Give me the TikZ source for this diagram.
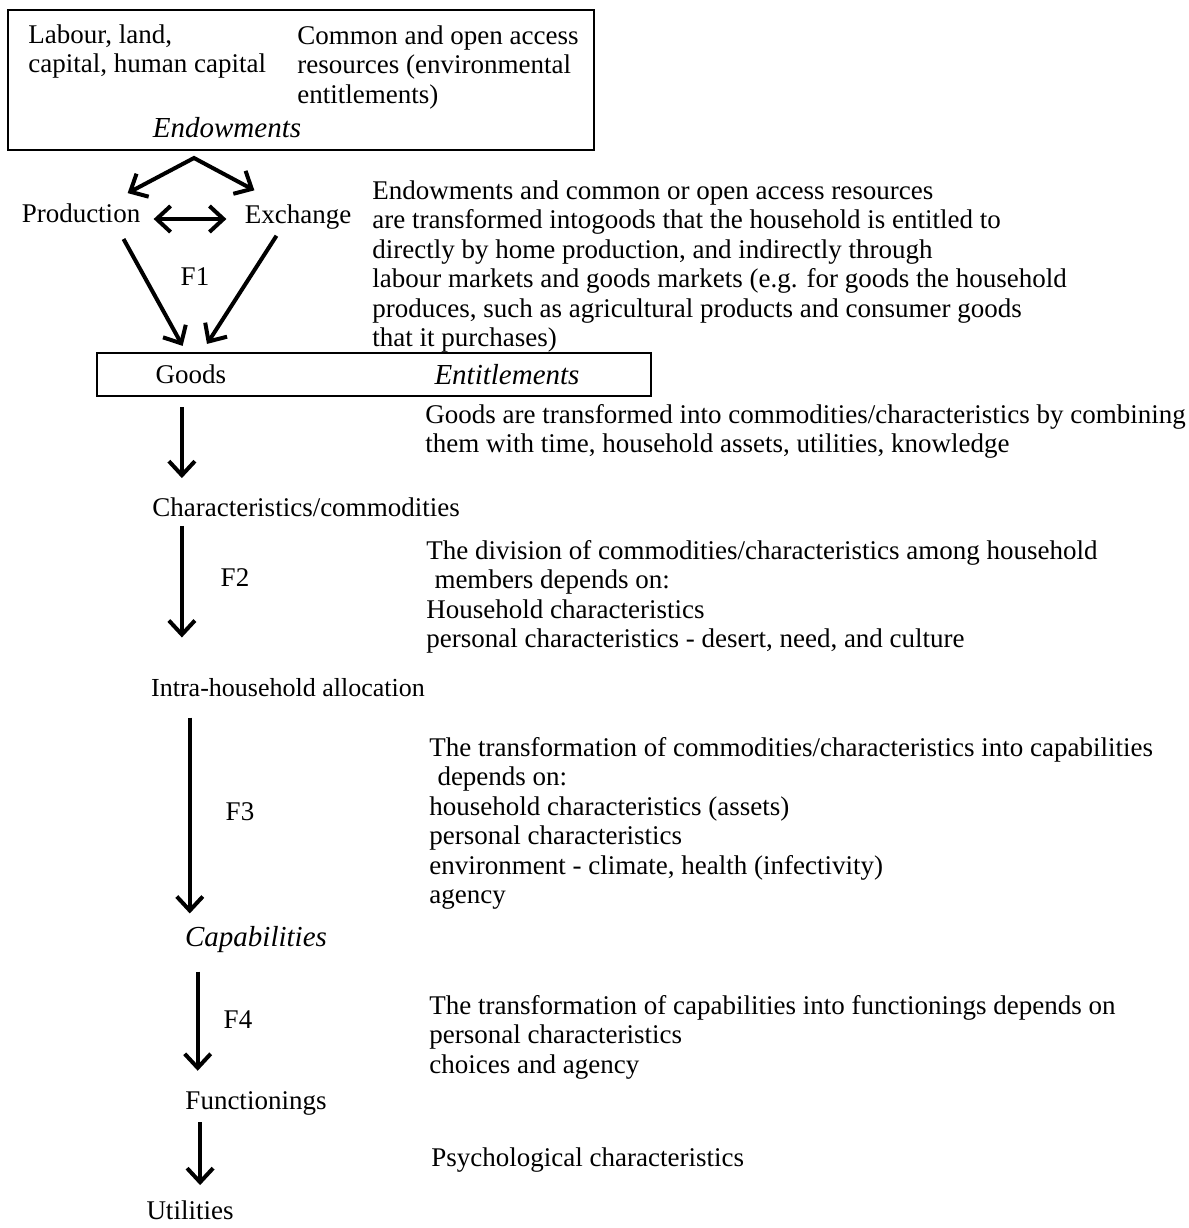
\documentclass[tikz,border=0pt]{standalone}
\usepackage{fontspec}
\setmainfont{Liberation Serif}
\usetikzlibrary{arrows.meta}

\tikzset{
  lbl/.style={inner sep=0pt, font=\fontsize{13.5pt}{14.75pt}\selectfont},
  note/.style={lbl, anchor=north west, align=left},
  head/.style={inner sep=0pt, font=\fontsize{14.5pt}{17pt}\selectfont\itshape},
  frame/.style={draw, line width=1pt, inner sep=0pt},
  arr/.style={line width=2pt, -{Straight Barb[length=7pt,width=13pt]}},
  dblarr/.style={line width=2pt, {Straight Barb[length=7pt,width=13pt]}-{Straight Barb[length=7pt,width=13pt]}},
}

\begin{document}
\begin{tikzpicture}[x=0.5pt, y=-0.5pt]
	% поле рисунка
	\useasboundingbox (0,0) rectangle (1189,1228);

	% ресурсы
	\node[frame, minimum width=293pt, minimum height=70pt] (endow) at (301,80) {};
	\node[note] (labour) at (28,24) {Labour, land,\\capital, human capital};
	\node[note] (common) at (297,25) {Common and open access\\resources (environmental\\entitlements)};
	\node[head] (endowlbl) at (227,128) {Endowments};

	% производство и обмен
	\node[lbl] (prod) at (81,213) {Production};
	\node[lbl] (exch) at (298,217) {Exchange};
	\coordinate (apex) at ([xshift=93.5pt, yshift=-3.5pt]endow.south west);
	\draw[dblarr, line join=miter] ([xshift=-6.5pt, yshift=5pt]prod.north east) -- (apex) -- ([xshift=5pt, yshift=7pt]exch.north west);
	\draw[dblarr, shorten <=6.5pt, shorten >=9pt] ([yshift=-3pt]prod.east) -- ([yshift=-3pt]prod.east -| exch.west);
	\node[lbl] (fone) at (195,277) {F1};

	% блага
	\node[frame, minimum width=277pt, minimum height=21.5pt] (goodsbox) at (374,374.5) {};
	\node[lbl] (goods) at (191,374) {Goods};
	\node[head] (entitl) at (507,375) {Entitlements};
	\draw[arr, shorten <=9.2pt, shorten >=3.5pt] ([xshift=-13pt]prod.south east) -- ([xshift=45pt]goodsbox.north west);
	\draw[arr, shorten <=3.6pt, shorten >=4.8pt] ([xshift=18pt]exch.south west) -- ([xshift=52.9pt]goodsbox.north west);

	% цепочка вниз
	\node[lbl] (chars) at (306,507) {Characteristics/commodities};
	\node[lbl] (ftwo) at (235,578) {F2};
	\node[lbl, font=\fontsize{13pt}{14.5pt}\selectfont] (intra) at (288,688) {Intra-household allocation};
	\node[lbl] (fthree) at (240,812) {F3};
	\node[head] (capab) at (256,940) {Capabilities};
	\node[lbl] (ffour) at (238,1020) {F4};
	\node[lbl] (funct) at (256,1103) {Functionings};
	\node[lbl] (utils) at (190,1210) {Utilities};

	\draw[arr, shorten <=5pt, shorten >=9.5pt] ([xshift=15pt]chars.north west |- goodsbox.south) -- ([xshift=15pt]chars.north west);
	\draw[arr, shorten <=4.5pt, shorten >=20.5pt] ([xshift=15pt]chars.south west) -- ([xshift=15pt]chars.south west |- intra.north);
	\draw[arr, shorten <=10pt, shorten >=6.5pt] ([xshift=19.5pt]intra.south west) -- ([xshift=19.5pt]intra.south west |- capab.north);
	\draw[arr, shorten <=9pt, shorten >=10pt] ([xshift=6.5pt]capab.south west) -- ([xshift=6.5pt]capab.south west |- funct.north);
	\draw[arr, shorten <=3.5pt, shorten >=7.5pt] ([xshift=7.5pt]funct.south west) -- ([xshift=7.5pt]funct.south west |- utils.north);

	% пояснения справа
	\node[note] (noteA) at (372,180) {Endowments and common or open access resources\\are transformed intogoods that the household is entitled to\\directly by home production, and indirectly through\\labour markets and goods markets (e.g. for goods the household\\produces, such as agricultural products and consumer goods\\that it purchases)};
	\node[note] (noteB) at (425,404) {Goods are transformed into commodities/characteristics by combining\\them with time, household assets, utilities, knowledge};
	\node[note] (noteC) at (426,540) {The division of commodities/characteristics among household\\\hspace*{0.3em}members depends on:\\Household characteristics\\personal characteristics - desert, need, and culture};
	\node[note] (noteD) at (429,737) {The transformation of commodities/characteristics into capabilities\\\hspace*{0.3em}depends on:\\household characteristics (assets)\\personal characteristics\\environment - climate, health (infectivity)\\agency};
	\node[note] (noteE) at (429,995) {The transformation of capabilities into functionings depends on\\personal characteristics\\choices and agency};
	\node[note] (noteF) at (431,1147) {Psychological characteristics};
\end{tikzpicture}
\end{document}
